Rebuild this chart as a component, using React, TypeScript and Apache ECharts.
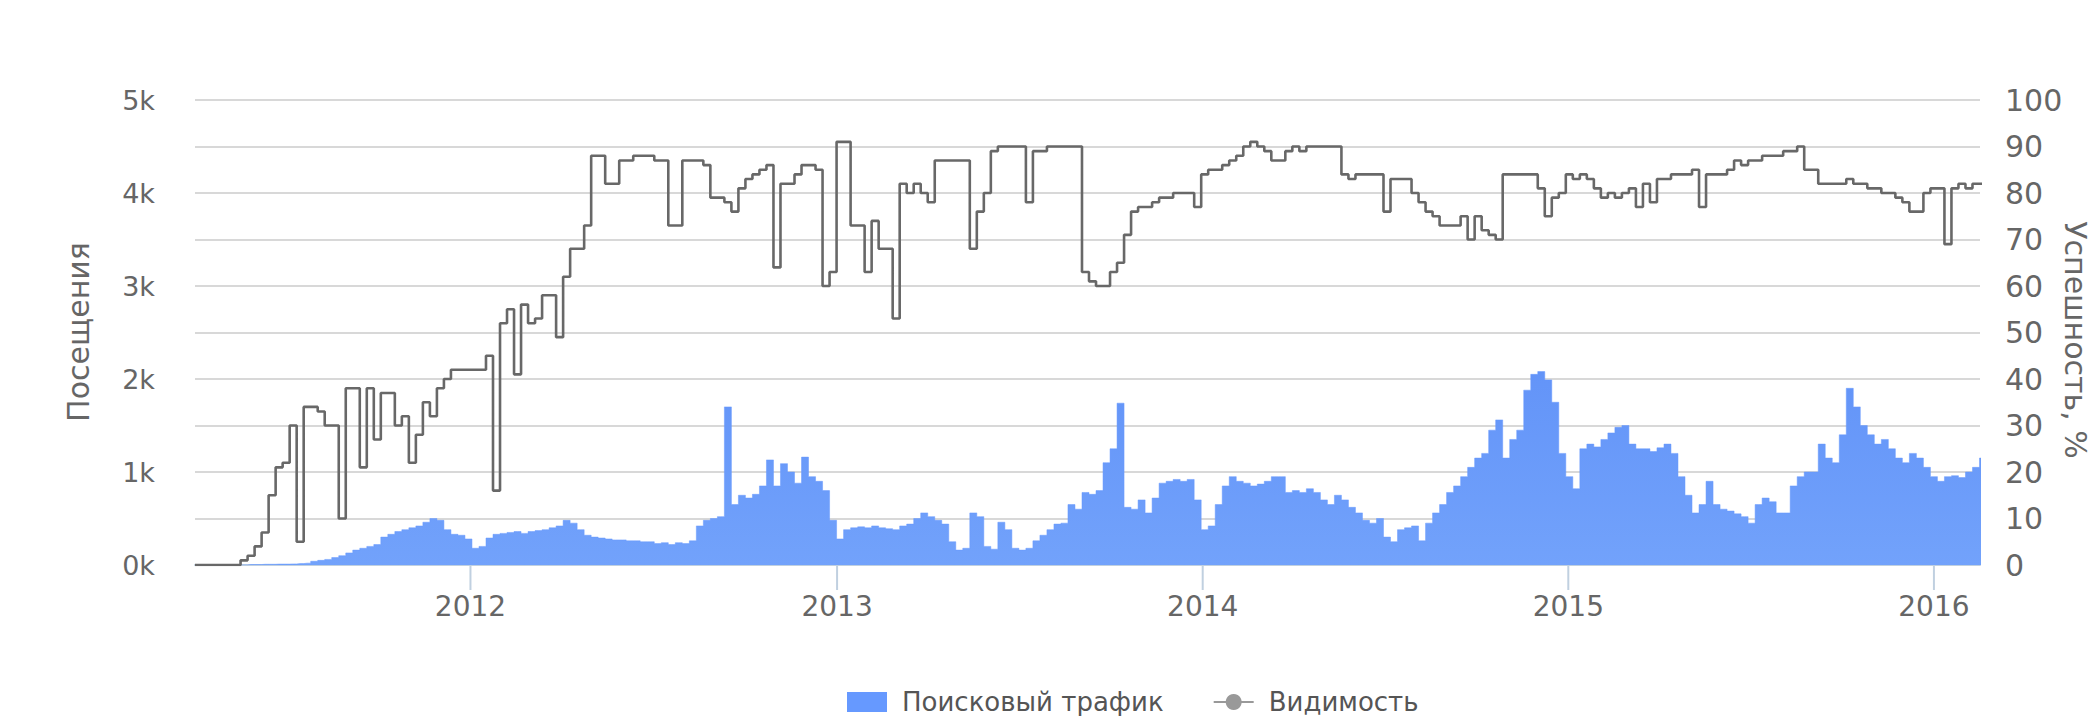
import React, { useEffect, useRef } from 'react';
import * as echarts from 'echarts';

// ---- data ----
const START = [2011, 3, 1]; // first weekly sample: 2011-04-01
const X_MIN = '2011-04-01';
const X_MAX = '2016-02-16';
const YEAR_TICKS = ['2012-01-01', '2013-01-01', '2014-01-01', '2015-01-01', '2016-01-01'];
const YEAR_LABELS = ['2012', '2013', '2014', '2015', '2016'];

const SERIES_NAMES = ['Поисковый трафик', 'Видимость'];
const LEFT_TITLE = 'Посещения';
const RIGHT_TITLE = 'Успешность, %';

// weekly search traffic (visits)
const TRAFFIC = [
  0, 0, 0, 0, 0, 0, 0, 0, 5, 5, 8, 8, 10, 10, 12, 15, 20, 40, 50, 60, 80, 100, 130, 160, 180, 200, 220, 300, 330, 360, 380, 400, 420,
  460, 500, 480, 380, 330, 320, 280, 180, 200, 290, 330, 340, 350, 360, 340, 360, 370, 380, 400, 420, 480, 450, 380, 320, 300, 290, 280, 270, 270, 260, 260, 250, 250,
  230, 240, 220, 240, 230, 260, 420, 480, 500, 520, 1700, 650, 750, 720, 760, 850, 1130, 850, 1090, 1000, 880, 1160, 950, 900, 800, 480, 280, 380, 400, 410, 400, 420, 400, 390, 380,
  420, 440, 500, 560, 520, 480, 440, 250, 160, 180, 560, 520, 200, 170, 460, 380, 180, 160, 180, 260, 320, 380, 440, 450, 650, 600, 780, 760, 800,
  1100, 1250, 1740, 620, 600, 700, 560, 720, 880, 900, 920, 900, 920, 700, 380, 420, 650, 850, 950, 900, 880, 850, 870, 900, 950, 950, 780, 800, 780, 820, 780, 700, 650, 750, 700, 620,
  560, 480, 450, 500, 300, 250, 380, 400, 420, 260, 450, 560, 650, 780, 850, 950, 1050, 1150, 1200, 1450, 1560, 1150, 1350, 1450, 1880, 2050, 2080, 1990,
  1750, 1200, 950, 820, 1250, 1300, 1270, 1350, 1420, 1480, 1500, 1300, 1250, 1250, 1220, 1260, 1300, 1200, 950, 750, 560, 650, 900, 650, 600, 580, 550, 520, 450, 650, 720, 680, 560, 560,
  850, 950, 1000, 1000, 1300, 1150, 1100, 1400, 1900, 1700, 1500, 1400, 1300, 1350, 1250, 1150, 1100, 1200, 1150, 1050, 950, 900, 950, 960, 940, 1000, 1050, 1150,
];

// weekly visibility (%)
const VISIBILITY = [
  0, 0, 0, 0, 0, 0, 0, 1, 2, 4, 7, 15, 21, 22, 30, 5, 34, 34, 33, 30, 30, 10, 38, 38, 21, 38, 27, 37, 37, 30, 32, 22, 28,
  35, 32, 38, 40, 42, 42, 42, 42, 42, 45, 16, 52, 55, 41, 56, 52, 53, 58, 58, 49, 62, 68, 68, 73, 88, 88, 82, 82, 87, 87, 88, 88, 88,
  87, 87, 73, 73, 87, 87, 87, 86, 79, 79, 78, 76, 81, 83, 84, 85, 86, 64, 82, 82, 84, 86, 86, 85, 60, 63, 91, 91, 73, 73, 63, 74, 68, 68, 53,
  82, 80, 82, 80, 78, 87, 87, 87, 87, 87, 68, 76, 80, 89, 90, 90, 90, 90, 78, 89, 89, 90, 90, 90, 90, 90, 63, 61, 60,
  60, 63, 65, 71, 76, 77, 77, 78, 79, 79, 80, 80, 80, 77, 84, 85, 85, 86, 87, 88, 90, 91, 90, 89, 87, 87, 89, 90, 89, 90, 90, 90, 90, 90, 84, 83,
  84, 84, 84, 84, 76, 83, 83, 83, 80, 78, 76, 75, 73, 73, 73, 75, 70, 75, 72, 71, 70, 84, 84, 84, 84, 84, 81, 75,
  79, 80, 84, 83, 84, 83, 81, 79, 80, 79, 80, 81, 77, 82, 78, 83, 83, 84, 84, 84, 85, 77, 84, 84, 84, 85, 87, 86, 87, 87, 88, 88, 88, 89,
  89, 90, 85, 85, 82, 82, 82, 82, 83, 82, 82, 81, 81, 80, 80, 79, 78, 76, 76, 80, 81, 81, 69, 81, 82, 81, 82, 82,
];

const FONT = '"DejaVu Sans", Verdana, sans-serif';

const toTs = (s: string) => {
  const [y, m, d] = s.split('-').map(Number);
  return new Date(y, m - 1, d).getTime();
};
const weekTs = (i: number) => new Date(START[0], START[1], START[2] + 7 * i).getTime();

export default function App() {
  const ref = useRef<HTMLDivElement>(null);

  useEffect(() => {
    if (!ref.current) return;
    const chart = echarts.init(ref.current, null, { renderer: 'svg' });
    const trafficData = TRAFFIC.map((v, i) => [weekTs(i), v]);
    const visData = VISIBILITY.map((v, i) => [weekTs(i), v]);
    const yearData = YEAR_TICKS.map((d) => [toTs(d), 0]);

    chart.setOption({
      animation: false,
      backgroundColor: '#ffffff',
      grid: { left: 195, right: 113, top: 100, bottom: 151, containLabel: false },
      legend: {
        left: 842,
        top: 684,
        itemGap: 49,
        itemWidth: 40,
        itemHeight: 20,
        textStyle: { color: '#555', fontSize: 26, fontFamily: FONT, padding: [0, 0, 0, 10] },
        data: [
          { name: SERIES_NAMES[0], icon: 'rect' },
          { name: SERIES_NAMES[1], itemStyle: { color: '#999' }, lineStyle: { color: '#999', width: 2 } },
        ],
      },
      xAxis: {
        type: 'time',
        min: toTs(X_MIN),
        max: toTs(X_MAX),
        axisLine: { show: true, lineStyle: { color: '#C0D0E0', width: 2 } },
        axisTick: { show: false },
        axisLabel: { show: false },
        splitLine: { show: false },
      },
      yAxis: [
        {
          type: 'value',
          min: 0,
          max: 5000,
          interval: 500,
          axisLine: { show: false },
          axisTick: { show: false },
          axisLabel: {
            formatter: (v: number) => (v % 1000 === 0 ? `${v / 1000}k` : ''),
            color: '#666',
            fontSize: 27,
            fontFamily: FONT,
            margin: 40,
          },
          splitLine: { show: true, lineStyle: { color: '#D8D8D8', width: 2 } },
        },
        {
          type: 'value',
          position: 'right',
          min: 0,
          max: 100,
          interval: 10,
          axisLine: { show: false },
          axisTick: { show: false },
          axisLabel: { color: '#666', fontSize: 30, fontFamily: FONT, margin: 25, padding: [0, 0, 10, 0] },
          splitLine: { show: false },
        },
      ],
      graphic: [
        {
          type: 'text',
          x: 78,
          y: 332,
          rotation: Math.PI / 2,
          style: { text: LEFT_TITLE, fill: '#666', font: `30px ${FONT}`, align: 'center', verticalAlign: 'middle' },
        },
        {
          type: 'text',
          x: 2075,
          y: 340,
          rotation: -Math.PI / 2,
          style: { text: RIGHT_TITLE, fill: '#666', font: `30px ${FONT}`, align: 'center', verticalAlign: 'middle' },
        },
      ],
      series: [
        {
          name: SERIES_NAMES[0],
          type: 'line',
          yAxisIndex: 0,
          step: 'middle',
          symbol: 'none',
          data: trafficData,
          itemStyle: { color: '#6699FF' },
          lineStyle: { width: 0.5, color: '#6699FF' },
          areaStyle: {
            opacity: 1,
            color: new echarts.graphic.LinearGradient(0, 0, 0, 1, [
              { offset: 0, color: '#6394F8' },
              { offset: 1, color: '#72A2FB' },
            ]),
          },
          z: 1,
        },
        {
          name: SERIES_NAMES[1],
          type: 'line',
          yAxisIndex: 1,
          step: 'middle',
          symbol: 'circle',
          showSymbol: false,
          data: visData,
          itemStyle: { color: '#666' },
          lineStyle: { width: 2.6, color: '#686868' },
          z: 3,
        },
        {
          name: 'years',
          type: 'custom',
          yAxisIndex: 0,
          silent: true,
          clip: false,
          data: yearData,
          z: 4,
          renderItem: (params: any, api: any) => {
            const p = api.coord([api.value(0), 0]);
            return {
              type: 'group',
              children: [
                {
                  type: 'line',
                  shape: { x1: p[0], y1: p[1] + 1, x2: p[0], y2: p[1] + 25 },
                  style: { stroke: '#C0D0E0', lineWidth: 2 },
                },
                {
                  type: 'text',
                  x: p[0],
                  y: p[1] + 41,
                  style: {
                    text: YEAR_LABELS[params.dataIndex],
                    fill: '#666',
                    font: `28px ${FONT}`,
                    align: 'center',
                    verticalAlign: 'middle',
                  },
                },
              ],
            };
          },
        },
      ],
    });

    return () => chart.dispose();
  }, []);

  return (
    <div
      ref={ref}
      style={{ position: 'fixed', left: 0, top: 0, width: 2093, height: 716, background: '#fff' }}
    />
  );
}
